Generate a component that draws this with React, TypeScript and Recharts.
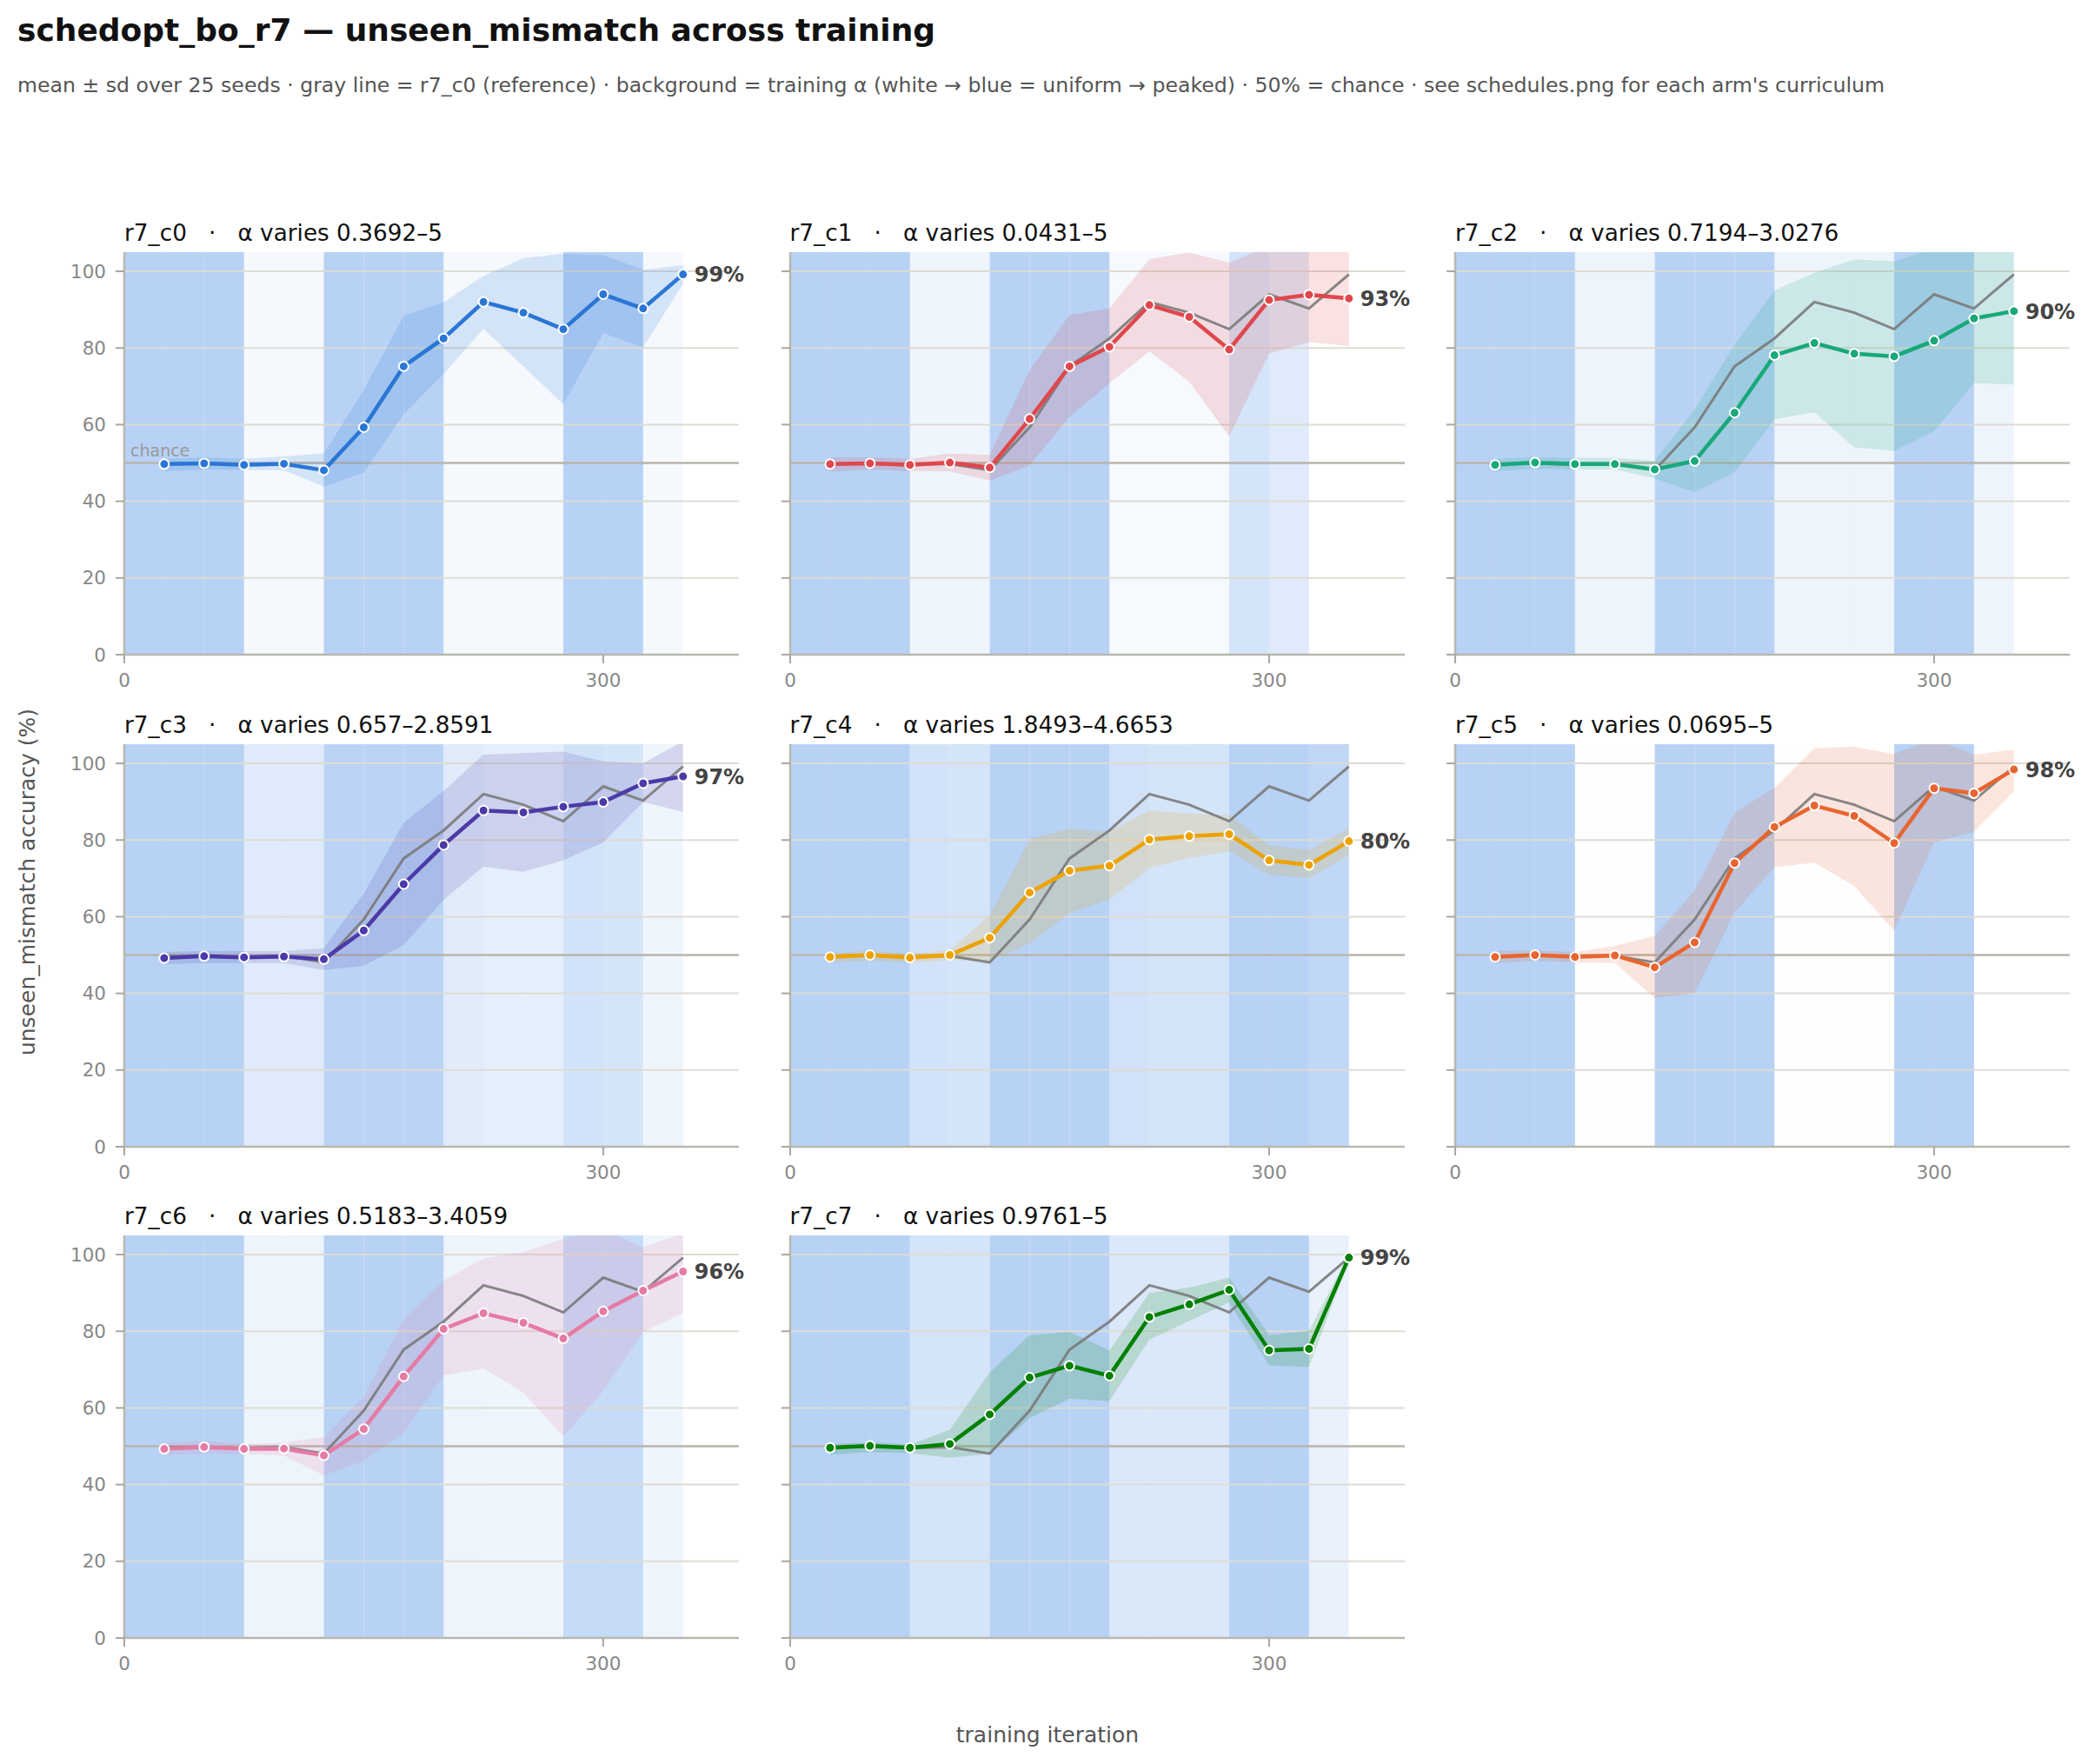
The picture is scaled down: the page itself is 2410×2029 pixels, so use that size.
import React from 'react';
import { ComposedChart, Area, Line, XAxis, YAxis, ReferenceArea, ReferenceLine, LabelList } from 'recharts';

// ---------- data ----------
const ITERS = [25, 50, 75, 100, 125, 150, 175, 200, 225, 250, 275, 300, 325, 350];
const X_TICKS = [0, 300];
const Y_TICKS = [0, 20, 40, 60, 80, 100];
const GRID_Y = [20, 40, 60, 80, 100];
const CHANCE = 50;
const X_DOMAIN = [0, 385];
const Y_DOMAIN = [0, 105];

const ARM_NAMES = ['r7_c0', 'r7_c1', 'r7_c2', 'r7_c3', 'r7_c4', 'r7_c5', 'r7_c6', 'r7_c7'];
const ALPHA_RANGES = ['0.3692–5', '0.0431–5', '0.7194–3.0276', '0.657–2.8591', '1.8493–4.6653', '0.0695–5', '0.5183–3.4059', '0.9761–5'];
const ARM_COLORS = ['#2a76d4', '#e0474c', '#18a87a', '#4b3aa7', '#eda200', '#e8652f', '#e57ba5', '#008000'];

const C0_MEAN = [49.7, 49.9, 49.5, 49.8, 48.1, 59.3, 75.2, 82.5, 92.0, 89.2, 84.9, 94.0, 90.3, 99.2];
const C0_LO = [47.8, 48.3, 48.2, 48.1, 43.8, 47.5, 62.7, 73.2, 85.0, 75.2, 65.3, 83.9, 80.1, 96.8];
const C0_HI = [51.1, 51.5, 51.1, 51.7, 52.5, 69.0, 88.4, 91.9, 98.8, 103.4, 104.6, 104.2, 100.4, 101.6];

const C1_MEAN = [49.7, 49.9, 49.5, 50.1, 48.8, 61.5, 75.2, 80.3, 91.2, 88.1, 79.6, 92.5, 93.9, 92.9];
const C1_LO = [47.8, 48.3, 47.9, 47.8, 45.4, 49.3, 62.0, 70.8, 79.1, 71.2, 57.0, 78.5, 81.5, 80.5];
const C1_HI = [51.5, 51.5, 51.1, 52.5, 52.1, 74.2, 88.6, 90.3, 103.2, 104.9, 102.3, 106.5, 107.0, 106.0];

const C2_MEAN = [49.5, 50.1, 49.7, 49.7, 48.3, 50.5, 63.1, 78.1, 81.3, 78.5, 77.8, 81.9, 87.7, 89.6];
const C2_LO = [47.8, 48.5, 48.3, 48.3, 46.0, 42.4, 47.5, 61.4, 63.2, 54.1, 53.2, 58.2, 70.8, 70.5];
const C2_HI = [51.1, 51.5, 51.3, 51.3, 50.6, 64.0, 80.9, 95.0, 99.6, 103.1, 102.6, 106.0, 105.5, 105.5];

const C3_MEAN = [49.2, 49.7, 49.4, 49.6, 48.9, 56.4, 68.5, 78.7, 87.7, 87.2, 88.7, 89.9, 94.8, 96.6];
const C3_LO = [47.6, 47.9, 47.9, 47.9, 46.1, 47.2, 52.6, 64.4, 73.1, 71.7, 74.7, 79.4, 89.9, 87.3];
const C3_HI = [50.8, 51.1, 51.0, 51.0, 51.8, 66.0, 84.5, 92.8, 102.3, 102.7, 103.1, 100.5, 100.0, 105.8];

const C4_MEAN = [49.5, 50.0, 49.3, 50.0, 54.5, 66.3, 72.0, 73.3, 80.1, 81.0, 81.5, 74.7, 73.5, 79.7];
const C4_LO = [48.1, 48.5, 48.0, 48.7, 48.5, 53.0, 60.9, 64.6, 72.7, 75.3, 77.1, 70.9, 70.0, 76.1];
const C4_HI = [50.5, 51.2, 50.4, 51.3, 60.3, 80.2, 83.0, 82.2, 87.7, 86.9, 86.5, 78.7, 77.4, 83.0];

const C5_MEAN = [49.5, 50.0, 49.5, 49.9, 46.8, 53.3, 74.0, 83.4, 89.0, 86.3, 79.2, 93.5, 92.2, 98.4];
const C5_LO = [47.9, 48.5, 48.1, 47.9, 38.8, 40.0, 61.1, 72.9, 74.1, 68.0, 56.3, 79.5, 82.1, 92.8];
const C5_HI = [51.0, 51.2, 50.8, 52.4, 55.0, 66.8, 87.1, 93.6, 104.0, 104.4, 102.4, 106.5, 102.3, 103.6];

const C6_MEAN = [49.3, 49.8, 49.3, 49.4, 47.6, 54.5, 68.2, 80.6, 84.7, 82.2, 78.1, 85.2, 90.6, 95.6];
const C6_LO = [47.6, 48.0, 48.0, 47.6, 42.4, 46.2, 53.6, 68.5, 70.3, 64.0, 52.5, 64.4, 79.8, 84.7];
const C6_HI = [50.9, 51.4, 50.6, 50.9, 52.4, 62.8, 83.1, 93.2, 99.0, 100.7, 104.1, 106.5, 101.9, 105.6];

const C7_MEAN = [49.6, 50.1, 49.6, 50.6, 58.3, 67.9, 71.0, 68.4, 83.7, 87.0, 90.8, 75.0, 75.4, 99.2];
const C7_LO = [47.8, 48.5, 48.2, 47.0, 48.0, 57.4, 62.4, 61.8, 77.8, 82.7, 87.5, 71.1, 70.7, 98.5];
const C7_HI = [50.6, 51.1, 50.4, 54.3, 69.3, 79.0, 79.8, 75.0, 90.0, 91.4, 94.0, 79.0, 80.1, 100.1];

// training-α intensity of each 25-iteration segment (0 = uniform/white, 1 = peaked/blue)
const C0_ALPHA = [1, 1, 1, 0.14, 0.14, 1, 1, 1, 0.14, 0.14, 0.14, 1, 1, 0.14];
const C1_ALPHA = [1, 1, 1, 0.22, 0.22, 1, 1, 1, 0.12, 0.12, 0.12, 0.6, 0.45, 0];
const C2_ALPHA = [1, 1, 1, 0.25, 0.25, 1, 1, 1, 0.25, 0.25, 0.25, 1, 1, 0.25];
const C3_ALPHA = [1, 1, 1, 0.45, 0.45, 0.95, 0.95, 0.95, 0.42, 0.36, 0.36, 0.62, 0.58, 0.22];
const C4_ALPHA = [1, 1, 1, 0.62, 0.6, 1, 1, 1, 0.66, 0.58, 0.6, 1, 1, 0.88];
const C5_ALPHA = [1, 1, 1, 0.02, 0.02, 1, 1, 1, 0.02, 0.02, 0.02, 1, 1, 0];
const C6_ALPHA = [1, 1, 1, 0.25, 0.25, 1, 1, 1, 0.25, 0.22, 0.22, 0.8, 0.8, 0.22];
const C7_ALPHA = [1, 1, 1, 0.6, 0.6, 1, 1, 1, 0.5, 0.5, 0.5, 1, 1, 0.3];

const MEANS = [C0_MEAN, C1_MEAN, C2_MEAN, C3_MEAN, C4_MEAN, C5_MEAN, C6_MEAN, C7_MEAN];
const LOS = [C0_LO, C1_LO, C2_LO, C3_LO, C4_LO, C5_LO, C6_LO, C7_LO];
const HIS = [C0_HI, C1_HI, C2_HI, C3_HI, C4_HI, C5_HI, C6_HI, C7_HI];
const ALPHAS = [C0_ALPHA, C1_ALPHA, C2_ALPHA, C3_ALPHA, C4_ALPHA, C5_ALPHA, C6_ALPHA, C7_ALPHA];
const REFERENCE = C0_MEAN;

const TITLE = 'schedopt_bo_r7 — unseen_mismatch across training';
const SUBTITLE = "mean ± sd over 25 seeds · gray line = r7_c0 (reference) · background = training α (white → blue = uniform → peaked) · 50% = chance · see schedules.png for each arm's curriculum";
const X_LABEL = 'training iteration';
const Y_LABEL = 'unseen_mismatch accuracy (%)';

// ---------- layout ----------
const FONT = '"DejaVu Sans", Verdana, sans-serif';
const FIG_W = 2410;
const FIG_H = 2029;
const PLOT_W = 707;
const PLOT_H = 463;
const COL_X = [143, 908.5, 1674];
const ROW_Y = [290, 855.5, 1421];
const M_LEFT = 70;
const M_TOP = 50;
const M_RIGHT = 80;
const M_BOTTOM = 50;
const BG_BLUE = 'rgb(183,210,245)';

function makeEndLabel(lastIndex: number, label: string) {
  return (p: any) => {
    if (p.index !== lastIndex) return null;
    const vb = p.viewBox || {};
    const x = p.x != null ? p.x : vb.x;
    const y = p.y != null ? p.y : vb.y;
    if (x == null || y == null) return null;
    return (
      <text
        key="end-label"
        x={x + 13}
        y={y}
        dy="0.36em"
        fontSize={24}
        fontWeight="bold"
        fill="#444444"
        fontFamily={FONT}
      >
        {label}
      </text>
    );
  };
}

function Panel({ idx }: { idx: number }) {
  const col = idx % 3;
  const row = Math.floor(idx / 3);
  const color = ARM_COLORS[idx];
  const rows = ITERS.map((x, i) => ({
    x,
    mean: MEANS[idx][i],
    band: [LOS[idx][i], HIS[idx][i]],
    ref: REFERENCE[i],
  }));
  const last = ITERS.length - 1;
  const endLabel = `${Math.round(MEANS[idx][last])}%`;
  const showYLabels = col === 0;

  return (
    <div style={{ position: 'absolute', left: COL_X[col] - M_LEFT, top: ROW_Y[row] - M_TOP }}>
      <ComposedChart
        width={M_LEFT + PLOT_W + M_RIGHT}
        height={M_TOP + PLOT_H + M_BOTTOM}
        data={rows}
        margin={{ top: M_TOP, right: M_RIGHT, bottom: 0, left: 0 }}
      >
        {ITERS.map((x, i) => (
          <ReferenceArea
            key={`bg-${i}`}
            x1={i === 0 ? 0 : ITERS[i - 1]}
            x2={x}
            fill={BG_BLUE}
            fillOpacity={ALPHAS[idx][i]}
            stroke="none"
            zIndex={-300}
          />
        ))}
        {GRID_Y.map((y) => (
          <ReferenceLine key={`g-${y}`} y={y} stroke="#dedbd3" strokeWidth={2} zIndex={-200} />
        ))}
        <ReferenceLine
          y={CHANCE}
          stroke="#b8b5ad"
          strokeWidth={2.5}
          zIndex={-150}
          label={
            idx === 0
              ? (lp: any) => {
                  const vb = lp.viewBox || {};
                  return (
                    <text x={(vb.x || 0) + 7} y={(vb.y || 0) - 8} fontSize={19} fill="#999999" fontFamily={FONT}>
                      chance
                    </text>
                  );
                }
              : undefined
          }
        />
        <XAxis
          type="number"
          dataKey="x"
          domain={X_DOMAIN}
          ticks={X_TICKS}
          allowDataOverflow
          height={M_BOTTOM}
          tickSize={10}
          tickMargin={12}
          tick={{ fill: '#888888', fontSize: 21.5, fontFamily: FONT }}
          tickLine={{ stroke: '#a8a8a0', strokeWidth: 2 }}
          axisLine={{ stroke: '#b8b8b0', strokeWidth: 2.5 }}
        />
        <YAxis
          type="number"
          domain={Y_DOMAIN}
          ticks={Y_TICKS}
          allowDataOverflow
          width={M_LEFT}
          tickSize={10}
          tickMargin={11}
          tick={{ fill: '#888888', fontSize: 21.5, fontFamily: FONT }}
          tickFormatter={(v: number) => (showYLabels ? String(v) : '')}
          tickLine={{ stroke: '#a8a8a0', strokeWidth: 2 }}
          axisLine={{ stroke: '#b8b8b0', strokeWidth: 2.5 }}
        />
        <Area
          type="linear"
          dataKey="band"
          stroke="none"
          fill={color}
          fillOpacity={0.16}
          isAnimationActive={false}
          activeDot={false}
          zIndex={100}
        />
        {idx !== 0 ? (
          <Line
            type="linear"
            dataKey="ref"
            stroke="#7a7a7a"
            strokeOpacity={0.9}
            strokeWidth={3}
            dot={false}
            activeDot={false}
            isAnimationActive={false}
            zIndex={390}
          />
        ) : null}
        <Line
          type="linear"
          dataKey="mean"
          stroke={color}
          strokeWidth={4.5}
          dot={{ r: 5.5, fill: color, stroke: '#ffffff', strokeWidth: 2, fillOpacity: 1 }}
          activeDot={false}
          isAnimationActive={false}
          zIndex={400}
        >
          <LabelList dataKey="mean" content={makeEndLabel(last, endLabel)} />
        </Line>
      </ComposedChart>
    </div>
  );
}

export default function App() {
  const panelIdx = ARM_NAMES.map((_, i) => i);
  return (
    <div
      style={{
        position: 'absolute',
        left: 0,
        top: 0,
        width: FIG_W,
        height: FIG_H,
        background: '#ffffff',
        fontFamily: FONT,
        overflow: 'hidden',
      }}
    >
      {panelIdx.map((i) => (
        <Panel key={ARM_NAMES[i]} idx={i} />
      ))}
      <svg
        width={FIG_W}
        height={FIG_H}
        style={{ position: 'absolute', left: 0, top: 0, pointerEvents: 'none' }}
        fontFamily={FONT}
      >
        <text x={20} y={47} fontSize={36} fontWeight="bold" fill="#111111">
          {TITLE}
        </text>
        <text x={20} y={106} fontSize={23.6} fill="#555555">
          {SUBTITLE}
        </text>
        {panelIdx.map((i) => (
          <text
            key={`t-${i}`}
            x={COL_X[i % 3]}
            y={ROW_Y[Math.floor(i / 3)] - 13}
            fontSize={26.3}
            fill="#111111"
            style={{ whiteSpace: 'pre' }}
          >
            {`${ARM_NAMES[i]}   ·   α varies ${ALPHA_RANGES[i]}`}
          </text>
        ))}
        <text x={FIG_W / 2} y={2004} fontSize={25} fill="#555555" textAnchor="middle">
          {X_LABEL}
        </text>
        <text
          transform={`translate(40, ${FIG_H / 2}) rotate(-90)`}
          fontSize={25}
          fill="#555555"
          textAnchor="middle"
        >
          {Y_LABEL}
        </text>
      </svg>
    </div>
  );
}
